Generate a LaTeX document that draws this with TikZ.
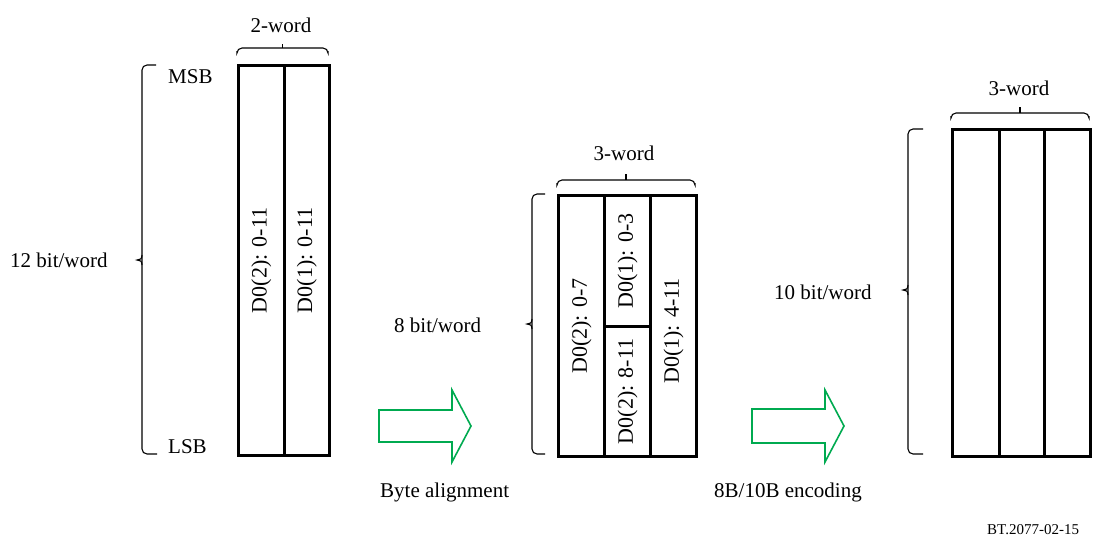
\documentclass[tikz,border=0pt]{standalone}
\usepackage{fontspec}
\setmainfont{Liberation Serif}
\begin{document}
\begin{tikzpicture}[x=1pt,y=-1pt,
  cell/.style={draw,line width=2.9pt,inner sep=0pt,anchor=north west,minimum width=#1},
  lbl/.style={inner sep=0pt,font=\fontsize{21}{25}\selectfont},
  vlbl/.style={inner sep=0pt,font=\fontsize{22}{26}\selectfont,rotate=90},
  brc/.style={line width=1.1pt,rounded corners=5pt},
  tck/.style={line width=1.1pt},
  garrow/.style={draw={rgb,255:red,0;green,170;blue,80},line width=1.6pt,fill=white}
]
\useasboundingbox (0,0) rectangle (1099,541);

% ---- left block (2-word)
\node[cell=46pt,minimum height=390pt] (a1) at (237,64) {};
\node[cell=45pt,minimum height=390pt] (a2) at (283,64) {};
\node[vlbl] (ta1) at (a1.center) {D0(2): 0-11};
\node[vlbl] (ta2) at (a2.center) {D0(1): 0-11};
\draw[brc] (237,51) -- (237,48) -- (328,48) -- (328,51);
\draw[tck] (282.5,48) -- (282.5,44);
\node[lbl] (w2) at (281,25) {2-word};
\draw[brc] (156,65) -- (142,65) -- (142,454) -- (157,454);
\draw[tck] (142,255) .. controls (142,259) and (140,260) .. (137,260) .. controls (140,260) and (142,261) .. (142,265);
\node[lbl,anchor=west] (b12) at (10,260) {12 bit/word};
\node[lbl,anchor=west] (msb) at (168,77) {MSB};
\node[lbl,anchor=west] (lsb) at (168,447) {LSB};

% ---- arrow 1
\draw[garrow] (379,410) -- (452,410) -- (452,390) -- (471,426) -- (452,462) -- (452,442) -- (379,442) -- cycle;
\node[lbl,anchor=west] (ba) at (380,492) {Byte alignment};

% ---- middle block (3-word, 8 bit)
\node[cell=46pt,minimum height=261pt] (b1) at (557,194) {};
\node[cell=46pt,minimum height=131pt] (b2) at (603,194) {};
\node[cell=46pt,minimum height=130pt] (b3) at (603,325) {};
\node[cell=46pt,minimum height=261pt] (b4) at (649,194) {};
\node[vlbl] (tb1) at (b1.center) {D0(2): 0-7};
\node[vlbl] (tb2) at (b2.center) {D0(1): 0-3};
\node[vlbl] (tb3) at (b3.center) {D0(2): 8-11};
\node[vlbl] (tb4) at ([yshift=-5pt]b4.center) {D0(1): 4-11};
\draw[brc] (557,183) -- (557,180) -- (695,180) -- (695,183);
\draw[tck] (626,180) -- (626,174);
\node[lbl] (w3a) at (624,153) {3-word};
\draw[brc] (545,194) -- (532,194) -- (532,454) -- (545,454);
\draw[tck] (532,319) .. controls (532,323) and (530,324) .. (527,324) .. controls (530,324) and (532,325) .. (532,329);
\node[lbl,anchor=west] (b8) at (394,325) {8 bit/word};

% ---- arrow 2
\draw[garrow] (752,409) -- (825,409) -- (825,390) -- (844,426) -- (825,462) -- (825,443) -- (752,443) -- cycle;
\node[lbl,anchor=west] (enc) at (714,492) {8B/10B encoding};

% ---- right block (3-word, 10 bit)
\node[cell=47pt,minimum height=327pt] (c1) at (951,128) {};
\node[cell=45pt,minimum height=327pt] (c2) at (998,128) {};
\node[cell=46pt,minimum height=327pt] (c3) at (1043,128) {};
\draw[brc] (951,116) -- (951,113) -- (1089,113) -- (1089,116);
\draw[tck] (1020,113) -- (1020,107);
\node[lbl] (w3b) at (1019,88) {3-word};
\draw[brc] (923,129) -- (908,129) -- (908,454) -- (923,454);
\draw[tck] (908,285) .. controls (908,289) and (906,290) .. (903,290) .. controls (906,290) and (908,291) .. (908,295);
\node[lbl,anchor=west] (b10) at (774,292) {10 bit/word};

\node[inner sep=0pt,anchor=west,font=\fontsize{15}{18}\selectfont] (ref) at (987,530) {BT.2077-02-15};
\end{tikzpicture}
\end{document}
